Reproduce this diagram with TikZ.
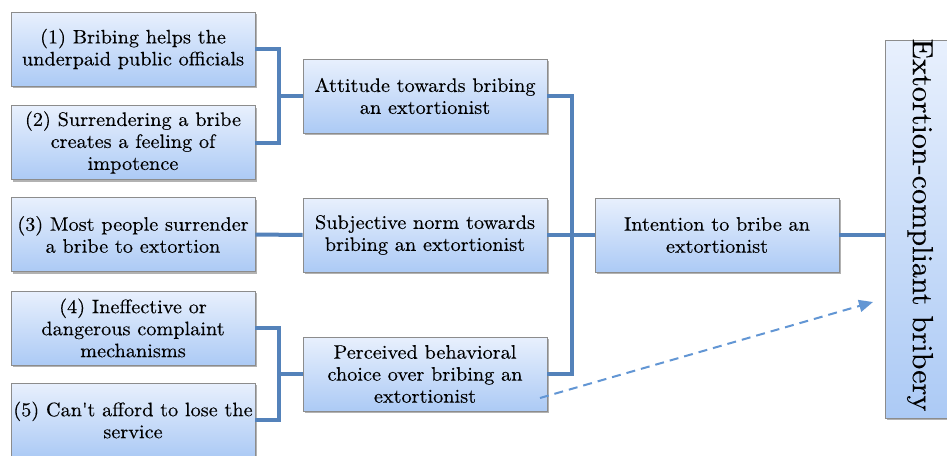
\documentclass[tikz,border=0pt]{standalone}
\usepackage{fontspec}
\setmainfont{lmroman10-regular}[Extension=.otf, FakeStretch=1.04, FakeBold=0.25]
\usetikzlibrary{shadows,arrows.meta,calc}
\definecolor{boxtop}{RGB}{232,240,253}
\definecolor{boxbot}{RGB}{172,202,245}
\definecolor{boxedge}{RGB}{140,140,140}
\definecolor{linkblue}{RGB}{84,130,186}
\definecolor{dashblue}{RGB}{98,150,212}
\tikzset{
  factor/.style={draw=boxedge, line width=0.8pt, top color=boxtop, bottom color=boxbot,
    minimum width=244pt, minimum height=74pt, inner sep=0pt, align=center,
    font=\fontsize{19.5}{22}\selectfont,
    drop shadow={shadow xshift=2pt, shadow yshift=-2pt, opacity=0.3, fill=black}},
  link/.style={draw=linkblue, line width=4pt, line join=miter},
  hint/.style={draw=dashblue, line width=2pt, dash pattern=on 9pt off 6pt,
    -{Triangle[length=14pt,width=12pt,fill=dashblue]}}
}
\begin{document}
\begin{tikzpicture}[x=1pt,y=-1pt]
\clip (0,0) rectangle (947,455);
\fill[white] (0,0) rectangle (947,455);

% left column: the five items
\node[factor] (b1) at (133,49)  {(1) Bribing helps the\\underpaid public officials};
\node[factor] (b2) at (133,142.5) {(2) Surrendering a bribe\\creates a feeling of\\impotence};
\node[factor] (b3) at (133,234.5) {(3) Most people surrender\\a bribe to extortion};
\node[factor] (b4) at (133,328) {(4) Ineffective or\\dangerous complaint\\mechanisms};
\node[factor] (b5) at (133,420) {(5) Can\textquotesingle t afford to lose the\\service};

% middle column
\node[factor] (att)  at (425,96)  {Attitude towards bribing\\an extortionist};
\node[factor] (subj) at (425,235) {Subjective norm towards\\bribing an extortionist};
\node[factor] (perc) at (425,374) {Perceived behavioral\\choice over bribing an\\extortionist};

% intention and outcome
\node[factor] (int) at (717,235) {Intention to bribe an\\extortionist};
\node[factor, minimum width=80pt, minimum height=378pt] (fin) at (925,229) {};
\node[rotate=-90, font=\fontsize{29}{30}\selectfont] (fint) at (920,225) {Extortion-compliant bribery};

% bracket junctions
\coordinate (j1) at (279,96);
\coordinate (j2) at (572,235);
\coordinate (j3) at (279,374);

\draw[link] (b1.east) -| (j1) |- (b2.east);
\draw[link] (j1) -- (att.west);
\draw[link] (b3.east) -- (subj.west);
\draw[link] (b4.east) -| (j3) |- (b5.east);
\draw[link] (j3) -- (perc.west);
\draw[link] (att.east) -| (j2) |- (perc.east);
\draw[link] (subj.east) -- (int.west);
\draw[link] (int.east) -- (int.east -| fin.west);

% dashed direct path from behavioural choice to the outcome
\coordinate (ds) at (540,398);
\coordinate (de) at (873,302);
\draw[hint] (ds) -- (de);
\end{tikzpicture}
\end{document}
